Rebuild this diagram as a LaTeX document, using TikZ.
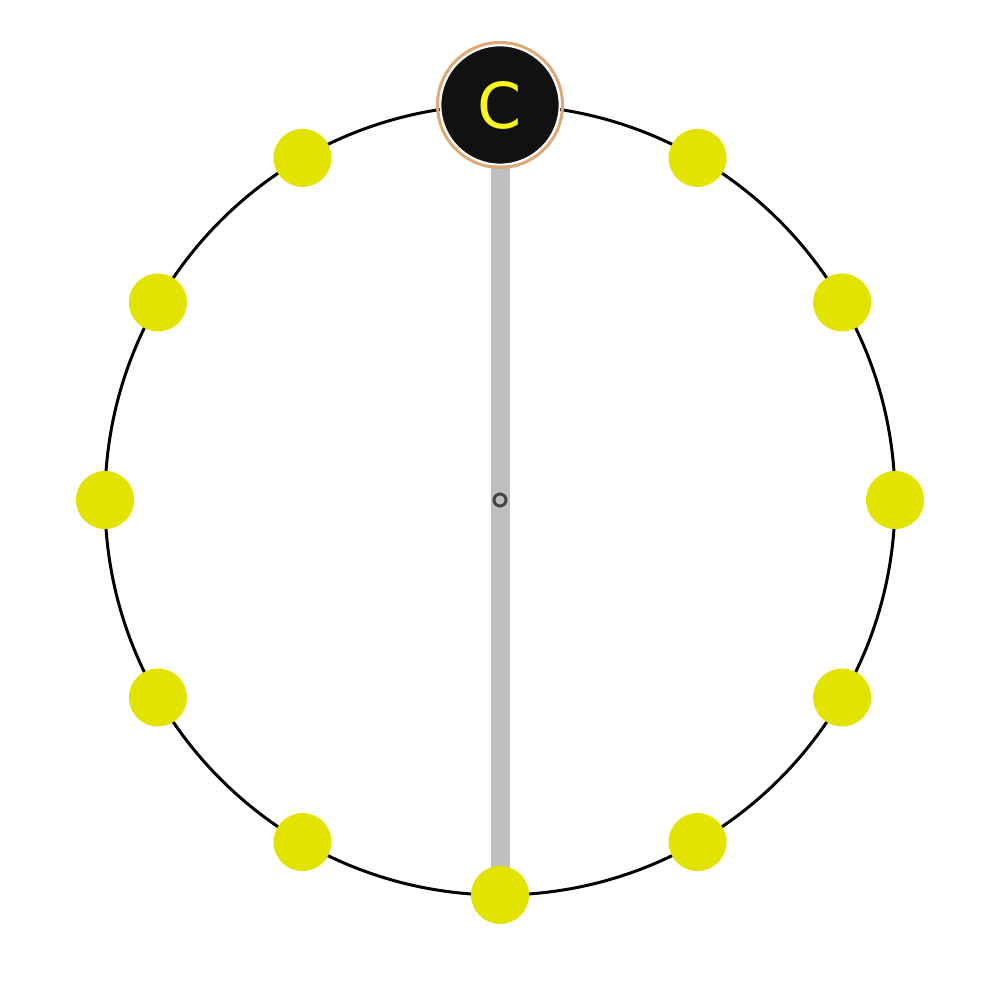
\documentclass[tikz,border=0pt]{standalone}
\usepackage{fontspec}
\usepackage{xcolor}
\usepackage{tikz}
\newfontfamily\labelfont{DejaVu Sans}
\usetikzlibrary{positioning,calc,backgrounds}

\definecolor{dotyellow}{HTML}{E3E300}
\definecolor{textyellow}{HTML}{F7F71E}
\definecolor{nodeblack}{HTML}{111111}
\definecolor{ringtan}{HTML}{DDAA77}
\definecolor{spokegrey}{HTML}{BFBFBF}
\definecolor{hubgrey}{HTML}{444444}

\begin{document}
\begin{tikzpicture}[
    dot/.style={circle, fill=dotyellow, minimum size=0.58cm, inner sep=0pt},
    cnode/.style={circle, fill=nodeblack, draw=white, line width=0.5pt, minimum size=1.19cm, inner sep=0pt, text=textyellow, font=\labelfont\fontsize{18}{18}\selectfont},
    spoke/.style={spokegrey, line width=5.4pt},
    hub/.style={circle, draw=hubgrey, line width=0.85pt, minimum size=0.12cm, inner sep=0pt}
]
    \useasboundingbox (0,0) rectangle (10,10);

    % Ring
    \coordinate (o) at (5,5);
    \draw[black, line width=0.85pt] (o) circle (3.95);

    % Yellow points on the ring
    \foreach \a in {0,30,60,120,150,180,210,240,270,300,330}
        \node[dot] (d\a) at ($(o)+(\a:3.95)$) {};

    % Top node
    \node[cnode] (c) at ($(o)+(90:3.95)$) {C};
    \draw[ringtan, line width=0.85pt] (c.center) circle (0.625);

    % Spoke through the centre
    \begin{scope}[on background layer]
        \draw[spoke] (c.center) -- (d270.center);
    \end{scope}
    \node[hub] (h) at (o) {};
\end{tikzpicture}
\end{document}
